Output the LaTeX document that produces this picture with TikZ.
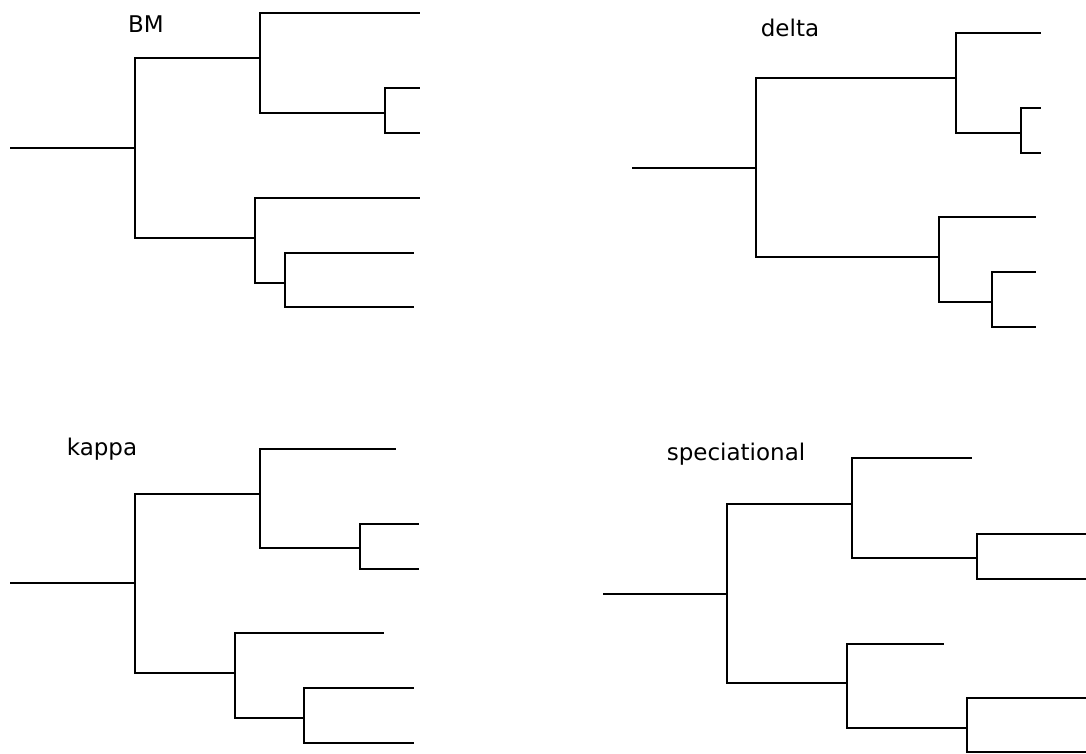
\documentclass[tikz,border=0pt]{standalone}
\usepackage{fontspec}
\setmainfont{DejaVu Sans}
\usepackage{tikz}

\begin{document}
\begin{tikzpicture}[x=1pt, y=-1pt,
    branch/.style={line width=2.3pt, black},
    title/.style={font=\fontsize{23}{27}\selectfont, inner sep=0pt}]
  \useasboundingbox (0,0) rectangle (1086,753);
  \clip (0,0) rectangle (1086,753);

  % BM tree
  \coordinate (bm-s) at (10,148);
  \coordinate (bm-r) at (135,148);
  \coordinate (bm-a) at (260,58);
  \coordinate (bm-b) at (255,238);
  \coordinate (bm-c) at (385,113);
  \coordinate (bm-d) at (285,283);
  \coordinate (bm-l1) at (420,13);
  \coordinate (bm-l2) at (420,88);
  \coordinate (bm-l3) at (420,133);
  \coordinate (bm-l4) at (420,198);
  \coordinate (bm-l5) at (414,253);
  \coordinate (bm-l6) at (414,307);
  \draw[branch] (bm-s) -- (bm-r);
  \draw[branch] (bm-r) |- (bm-a) (bm-r) |- (bm-b);
  \draw[branch] (bm-a) |- (bm-l1) (bm-a) |- (bm-c);
  \draw[branch] (bm-c) |- (bm-l2) (bm-c) |- (bm-l3);
  \draw[branch] (bm-b) |- (bm-l4) (bm-b) |- (bm-d);
  \draw[branch] (bm-d) |- (bm-l5) (bm-d) |- (bm-l6);
  \node[title] (bm-title) at (146,24.5) {BM};

  % delta tree
  \coordinate (dl-s) at (632,168);
  \coordinate (dl-r) at (756,168);
  \coordinate (dl-a) at (956,78);
  \coordinate (dl-b) at (939,257);
  \coordinate (dl-c) at (1021,133);
  \coordinate (dl-d) at (992,302);
  \coordinate (dl-l1) at (1041,33);
  \coordinate (dl-l2) at (1041,108);
  \coordinate (dl-l3) at (1041,153);
  \coordinate (dl-l4) at (1036,217);
  \coordinate (dl-l5) at (1036,272);
  \coordinate (dl-l6) at (1036,327);
  \draw[branch] (dl-s) -- (dl-r);
  \draw[branch] (dl-r) |- (dl-a) (dl-r) |- (dl-b);
  \draw[branch] (dl-a) |- (dl-l1) (dl-a) |- (dl-c);
  \draw[branch] (dl-c) |- (dl-l2) (dl-c) |- (dl-l3);
  \draw[branch] (dl-b) |- (dl-l4) (dl-b) |- (dl-d);
  \draw[branch] (dl-d) |- (dl-l5) (dl-d) |- (dl-l6);
  \node[title] (dl-title) at (790,28.3) {delta};

  % kappa tree
  \coordinate (kp-s) at (10,583);
  \coordinate (kp-r) at (135,583);
  \coordinate (kp-a) at (260,494);
  \coordinate (kp-b) at (235,673);
  \coordinate (kp-c) at (360,548);
  \coordinate (kp-d) at (304,718);
  \coordinate (kp-l1) at (396,449);
  \coordinate (kp-l2) at (419,524);
  \coordinate (kp-l3) at (419,569);
  \coordinate (kp-l4) at (384,633);
  \coordinate (kp-l5) at (414,688);
  \coordinate (kp-l6) at (414,743);
  \draw[branch] (kp-s) -- (kp-r);
  \draw[branch] (kp-r) |- (kp-a) (kp-r) |- (kp-b);
  \draw[branch] (kp-a) |- (kp-l1) (kp-a) |- (kp-c);
  \draw[branch] (kp-c) |- (kp-l2) (kp-c) |- (kp-l3);
  \draw[branch] (kp-b) |- (kp-l4) (kp-b) |- (kp-d);
  \draw[branch] (kp-d) |- (kp-l5) (kp-d) |- (kp-l6);
  \node[title] (kp-title) at (102,449) {kappa};

  % speciational tree
  \coordinate (sp-s) at (603,594);
  \coordinate (sp-r) at (727,594);
  \coordinate (sp-a) at (852,504);
  \coordinate (sp-b) at (847,683);
  \coordinate (sp-c) at (977,558);
  \coordinate (sp-d) at (967,728);
  \coordinate (sp-l1) at (972,458);
  \coordinate (sp-l2) at (1090,534);
  \coordinate (sp-l3) at (1090,579);
  \coordinate (sp-l4) at (944,644);
  \coordinate (sp-l5) at (1090,698);
  \coordinate (sp-l6) at (1090,752);
  \draw[branch] (sp-s) -- (sp-r);
  \draw[branch] (sp-r) |- (sp-a) (sp-r) |- (sp-b);
  \draw[branch] (sp-a) |- (sp-l1) (sp-a) |- (sp-c);
  \draw[branch] (sp-c) |- (sp-l2) (sp-c) |- (sp-l3);
  \draw[branch] (sp-b) |- (sp-l4) (sp-b) |- (sp-d);
  \draw[branch] (sp-d) |- (sp-l5) (sp-d) |- (sp-l6);
  \node[title] (sp-title) at (736,454) {speciational};
\end{tikzpicture}
\end{document}
